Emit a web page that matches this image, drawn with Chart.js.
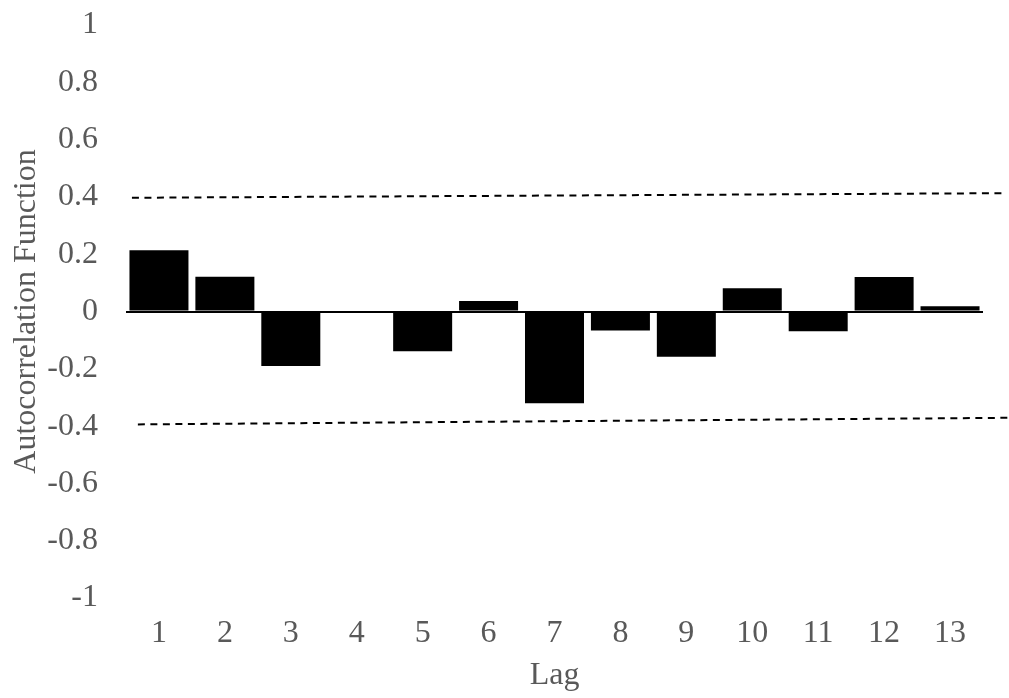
<!DOCTYPE html>
<html>
<head>
<meta charset="utf-8">
<script src="https://cdn.jsdelivr.net/npm/chart.js@4.4.0/dist/chart.umd.min.js"></script>
<style>
  html, body { margin: 0; padding: 0; background: #ffffff; }
  #wrap { width: 1009px; height: 698px; position: relative; }
</style>
</head>
<body>
<div id="wrap"><canvas id="acf"></canvas></div>
<script>
// Autocorrelation function by lag
const lags = ['1', '2', '3', '4', '5', '6', '7', '8', '9', '10', '11', '12', '13'];
const acfValues = [0.214, 0.121, -0.190, 0, -0.139, 0.037, -0.320, -0.066, -0.158, 0.081, -0.069, 0.120, 0.018];

// Confidence bounds (value at start and end of the span, in lag units)
const upperBound = [0.397, 0.413];
const upperLagSpan = [0.59, 13.8];
const lowerBound = [-0.394, -0.371];
const lowerLagSpan = [0.68, 13.92];

const yTicks = [-1, -0.8, -0.6, -0.4, -0.2, 0, 0.2, 0.4, 0.6, 0.8, 1];

const textColor = '#595959';
const fontFamily = '"Liberation Serif", "Times New Roman", serif';

function boundPoints(span, vals) {
  return span.map((x, i) => ({ x: x, y: vals[i] }));
}

new Chart(document.getElementById('acf'), {
  type: 'bar',
  data: {
    labels: lags,
    datasets: [
      {
        type: 'bar',
        label: 'ACF',
        data: acfValues,
        backgroundColor: '#000000',
        borderWidth: 0,
        grouped: false,
        categoryPercentage: 1,
        barPercentage: 0.895,
        xAxisID: 'x',
        yAxisID: 'y',
        order: 2
      },
      {
        type: 'line',
        label: 'Upper bound',
        data: boundPoints(upperLagSpan, upperBound),
        borderColor: '#000000',
        borderWidth: 2,
        borderDash: [7, 5.5],
        pointRadius: 0,
        fill: false,
        clip: false,
        xAxisID: 'x2',
        yAxisID: 'y',
        order: 1
      },
      {
        type: 'line',
        label: 'Lower bound',
        data: boundPoints(lowerLagSpan, lowerBound),
        borderColor: '#000000',
        borderWidth: 2,
        borderDash: [7, 5.5],
        pointRadius: 0,
        fill: false,
        clip: false,
        xAxisID: 'x2',
        yAxisID: 'y',
        order: 1
      }
    ]
  },
  options: {
    responsive: true,
    maintainAspectRatio: false,
    animation: false,
    devicePixelRatio: 1,
    layout: { padding: { top: 25, right: 26, bottom: 0, left: 0 } },
    plugins: {
      legend: { display: false },
      tooltip: { enabled: false }
    },
    scales: {
      x: {
        type: 'category',
        offset: true,
        grid: { display: false, drawTicks: false },
        border: { display: false },
        ticks: {
          color: textColor,
          font: { family: fontFamily, size: 32 },
          padding: 16,
          maxRotation: 0,
          autoSkip: false
        },
        title: {
          display: true,
          text: 'Lag',
          color: textColor,
          font: { family: fontFamily, size: 32 },
          padding: { top: 0, bottom: 3 }
        },
        afterFit: (scale) => { scale.height = 100; }
      },
      x2: {
        type: 'linear',
        display: false,
        offset: false,
        min: 0.5,
        max: 13.5
      },
      y: {
        type: 'linear',
        min: -1,
        max: 1,
        afterBuildTicks: (scale) => { scale.ticks = yTicks.map(v => ({ value: v })); },
        grid: {
          drawTicks: true,
          tickLength: 28,
          tickColor: 'rgba(0,0,0,0)',
          color: (ctx) => (ctx.tick && ctx.tick.value === 0 ? '#000000' : 'rgba(0,0,0,0)'),
          lineWidth: (ctx) => (ctx.tick && ctx.tick.value === 0 ? 2 : 0)
        },
        border: { display: false },
        ticks: {
          color: textColor,
          font: { family: fontFamily, size: 32 },
          padding: 0,
          callback: (v) => String(Math.round(v * 10) / 10)
        },
        title: {
          display: true,
          text: 'Autocorrelation Function',
          color: textColor,
          font: { family: fontFamily, size: 32 },
          padding: { top: 7, bottom: 0 }
        },
        afterFit: (scale) => { scale.width = 126; }
      }
    }
  }
});
</script>
</body>
</html>
